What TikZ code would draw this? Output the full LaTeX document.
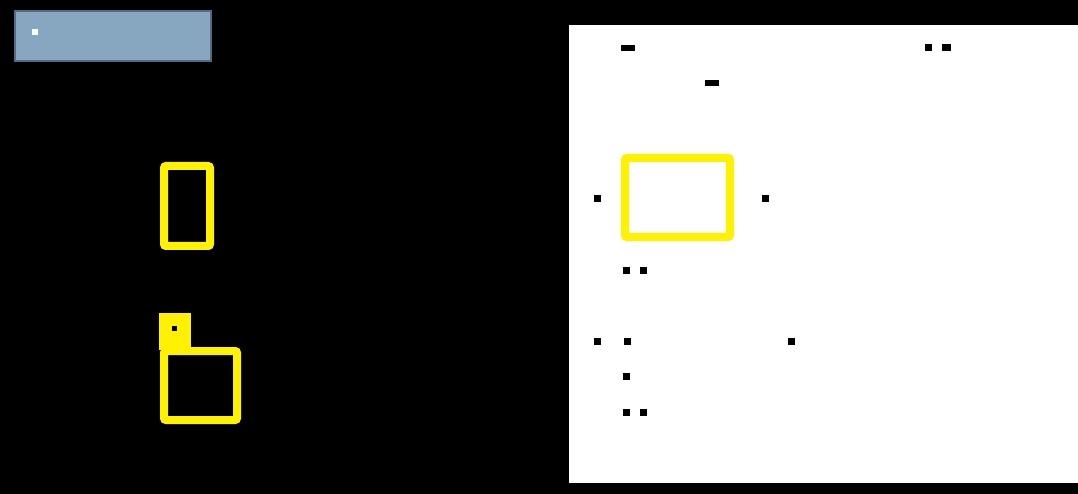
\documentclass[tikz,border=0pt]{standalone}
\begin{document}
\begin{tikzpicture}[x=1pt,y=-1pt,
  glyph/.style={fill=black,inner sep=0pt,minimum width=7pt,minimum height=7pt,draw=none},
  wglyph/.style={glyph,fill=white,minimum width=6pt,minimum height=6pt},
  dashglyph/.style={glyph,minimum width=14pt,minimum height=6pt},
  yframe/.style={draw=yellow,line width=8pt,rounded corners=2pt}]
\useasboundingbox (0,0) rectangle (1078,494);
\fill[black] (0,0) rectangle (1078,494);
% top-left blue box
\node[draw={rgb,255:red,84;green,106;blue,130},line width=2pt,fill={rgb,255:red,135;green,166;blue,192},
  minimum width=196pt,minimum height=50pt,inner sep=0pt] (title) at (113,36) {};
\node[wglyph] (t1) at (35,32) {};
% left yellow frames
\draw[yframe] (164,166) rectangle (210,246);
\node[fill=yellow,minimum width=32pt,minimum height=37pt,inner sep=0pt] (tag) at (175,331.5) {};
\node[glyph,minimum width=5pt,minimum height=5pt] (tagg) at (174,328) {};
\draw[yframe] (164,351) rectangle (237,420);
% right white panel
\fill[white] (569,25) rectangle (1078,483);
\node[dashglyph] (d1) at (628,48) {};
\node[dashglyph] (d2) at (712,83) {};
\node[glyph] (g1) at (928,48) {};
\node[glyph,minimum width=9pt] (g2) at (946,48) {};
\draw[yframe] (625,158) rectangle (730,237);
\node[glyph] (g3) at (597,199) {};
\node[glyph] (g4) at (765,199) {};
\node[glyph] (g5) at (626,270) {};
\node[glyph] (g6) at (643,270) {};
\node[glyph] (g7) at (597,341) {};
\node[glyph] (g8) at (627,341) {};
\node[glyph] (g9) at (791,341) {};
\node[glyph] (g10) at (626,376) {};
\node[glyph] (g11) at (626,412) {};
\node[glyph] (g12) at (643,412) {};
\end{tikzpicture}
\end{document}
